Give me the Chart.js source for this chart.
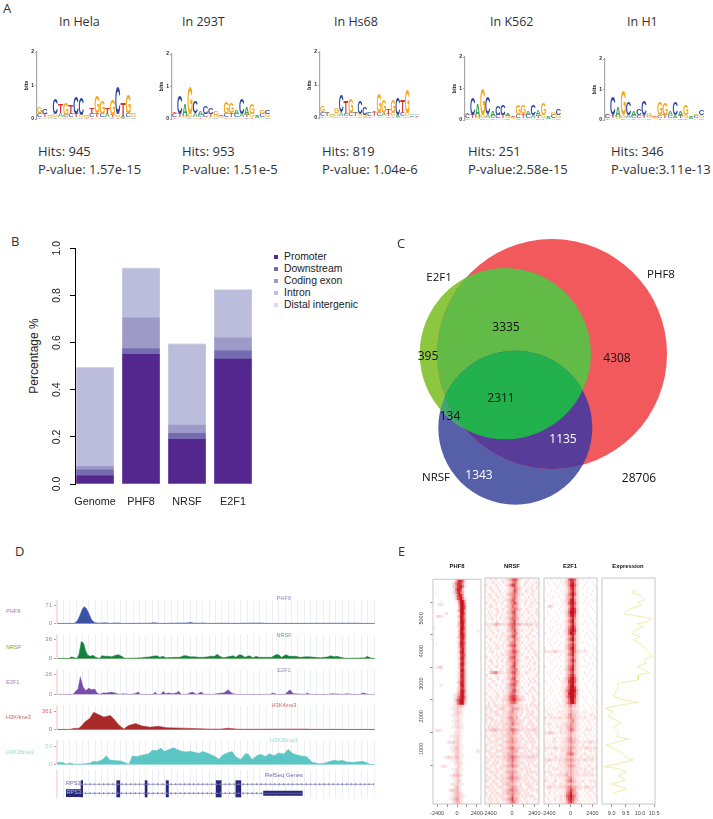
<!DOCTYPE html>
<html>
<head>
<meta charset="utf-8">
<title>PHF8 figure</title>
<script src="https://cdn.jsdelivr.net/npm/chart.js@4"></script>
<style>
html, body { margin: 0; padding: 0; background: #fff; }
#fig { position: relative; width: 713px; height: 819px; overflow: hidden; }
canvas { position: absolute; }
canvas.soft { filter: blur(0.45px); }
canvas.heat { filter: blur(0.4px); }
.t { position: absolute; white-space: nowrap; transform: translate(-50%, -50%); line-height: 1; }
.l { position: absolute; white-space: nowrap; transform: translateY(-50%); line-height: 1; }
.calibri { font-family: "Open Sans", sans-serif; color: #333; }
.helv { font-family: "Liberation Sans", sans-serif; color: #222; }
</style>
</head>
<body>
<div id="fig"></div>
<script>
// Panel A: motif logos, letters and letter heights in bits
const logoNames = ['hela', 'h293t', 'hs68', 'k562', 'h1'];
const logoTitles = ['In Hela', 'In 293T', 'In Hs68', 'In K562', 'In H1'];
const logoHits = ['Hits: 945', 'Hits: 953', 'Hits: 819', 'Hits: 251', 'Hits: 346'];
const logoPvalues = ['P-value: 1.57e-15', 'P-value: 1.51e-5', 'P-value: 1.04e-6', 'P-value:2.58e-15', 'P-value:3.11e-13'];
const helaTop = 'GCGCTGTCCGTGGTGCTGG';
const helaBits = [.2, .14, .03, .47, .27, .34, .27, .5, .5, .03, .17, .5, .4, .2, .47, .82, .37, .57, .03];
const h293tTop = 'TCAGCACCGTGGACAGAGC';
const h293tBits = [.03, .54, .37, .84, .37, .12, .24, .2, .12, .03, .37, .32, .12, .47, .22, .32, .03, .1, .1];
const hs68Top = 'GAAGCTGACCATGGTGCTGAA';
const hs68Bits = [.2, .02, .02, .14, .52, .37, .42, .05, .37, .25, .02, .02, .57, .37, .17, .37, .52, .37, .72, .03, .03];
const k562Top = 'TCAGCACCATGGACAGAGC';
const k562Bits = [.03, .54, .42, .82, .52, .17, .27, .32, .07, .03, .32, .27, .12, .32, .22, .37, .03, .08, .22];
const h1Top = 'TCAGCACCGTGGACAGAGC';
const h1Bits = [.03, .57, .32, .82, .42, .17, .22, .47, .07, .03, .42, .37, .12, .42, .17, .32, .03, .05, .17];
const logoMid = 'CTGGACCTGGCTCATGACGCT';
const logoMidBits = [.12, .1, .06, .1, .12, .08, .1, .1, .08, .06, .1, .12, .1, .1, .08, .1, .06, .1, .1, .05, .05];
const logoLow = 'TAACGTGACTTGAGCTTACAG';
const logoLowBits = [.06, .05, .03, .05, .06, .05, .05, .06, .05, .03, .05, .06, .05, .06, .05, .05, .03, .05, .05, .03, .03];

// Panel B: genomic distribution
const regionCategories = ['Genome', 'PHF8', 'NRSF', 'E2F1'];
const regionNames = ['Promoter', 'Downstream', 'Coding exon', 'Intron', 'Distal intergenic'];
const promoterValues = [0.035, 0.55, 0.19, 0.53];
const downstreamValues = [0.025, 0.025, 0.025, 0.035];
const codingExonValues = [0.015, 0.13, 0.035, 0.055];
const intronValues = [0.417, 0.208, 0.342, 0.202];
const distalValues = [0.003, 0.003, 0.003, 0.003];
const percentTicks = [0, 0.2, 0.4, 0.6, 0.8, 1];

// Panel C: Venn circles in layout units
const vennNames = ['PHF8', 'E2F1', 'NRSF'];
const vennCenterX = [172, 125.3, 135.3];
const vennCenterY = [129, 128.7, 202.7];
const vennRadius = [115, 85.6, 77];

// Panel D: browser tracks, position along the locus and signal
const phf8Pos = [172, 222, 232, 240, 248, 254, 260, 268, 276, 284, 296, 305, 318, 330, 345, 358, 368, 450, 460, 470, 480, 560, 572, 584, 600, 612, 622, 685, 690, 780, 790, 800, 1070, 1090, 1122];
const phf8Val = [0, 0, 8, 30, 58, 67, 60, 38, 14, 4, 1, 2, 3, 0, 2, 2, 0, 1, 3, 2, 0, 2, 4, 1, 1, 2, 0, 1, 0, 2, 1, 0, 1, 0, 0];
const nrsfPos = [172, 208, 216, 224, 232, 238, 245, 252, 258, 264, 272, 280, 288, 300, 306, 316, 328, 336, 348, 356, 368, 376, 425, 436, 452, 458, 472, 480, 490, 498, 525, 540, 552, 560, 570, 582, 598, 612, 625, 632, 645, 652, 662, 672, 684, 700, 708, 718, 726, 735, 748, 760, 768, 778, 795, 815, 828, 836, 845, 858, 868, 888, 900, 918, 928, 962, 985, 992, 1002, 1012, 1022, 1040, 1095, 1102, 1110, 1122];
const nrsfVal = [0, 0, 3, 1, 0, 8, 32, 28, 14, 6, 4, 6, 2, 0, 5, 4, 4, 3, 6, 7, 3, 0, 1, 2, 3, 4, 5, 2, 4, 1, 2, 2, 5, 5, 3, 3, 2, 2, 3, 4, 4, 8, 3, 1, 3, 5, 2, 7, 6, 2, 5, 1, 4, 2, 2, 2, 7, 7, 2, 7, 4, 4, 2, 3, 3, 1, 3, 5, 3, 4, 2, 0, 1, 4, 1, 0];
const e2f1Pos = [172, 220, 228, 235, 242, 250, 258, 268, 276, 285, 292, 300, 310, 322, 335, 345, 352, 362, 368, 392, 405, 416, 422, 460, 466, 472, 484, 490, 497, 505, 518, 530, 537, 544, 562, 570, 578, 590, 605, 612, 640, 660, 672, 685, 695, 708, 810, 820, 830, 855, 870, 880, 915, 922, 930, 985, 995, 1030, 1040, 1060, 1080, 1090, 1105, 1122];
const e2f1Val = [0, 0, 4, 7, 23, 10, 5, 8, 6, 7, 2, 0, 2, 2, 3, 2, 1, 0, 1, 0, 1, 3, 0, 0, 3, 0, 0, 4, 1, 2, 1, 2, 4, 0, 0, 2, 3, 0, 3, 0, 0, 1.5, 2, 6, 2, 0, 0, 2, 0, 0, 6, 1, 0, 2, 0, 0, 1, 0, 1, 0, 0, 2, 0, 0];
const h3k4Pos = [172, 210, 222, 238, 246, 256, 270, 282, 296, 312, 332, 345, 358, 372, 386, 408, 425, 450, 475, 500, 550, 600, 640, 665, 685, 710, 725, 760, 850, 870, 915, 935, 1122];
const h3k4Val = [0, 0, 18, 25, 70, 150, 215, 340, 295, 245, 275, 185, 80, 10, 75, 115, 70, 45, 62, 35, 25, 14, 5, 8, 24, 6, 4, 3, 6, 7, 7, 2, 0];
const h3k36Pos = [172, 187, 200, 212, 224, 247, 272, 280, 292, 307, 320, 330, 347, 362, 377, 387, 398, 412, 422, 434, 447, 457, 472, 484, 494, 507, 522, 534, 547, 560, 572, 584, 597, 609, 619, 634, 647, 657, 669, 682, 697, 707, 722, 737, 745, 757, 772, 782, 797, 809, 822, 837, 852, 865, 877, 892, 907, 920, 937, 957, 972, 987, 1002, 1017, 1027, 1042, 1062, 1087, 1097, 1112, 1122];
const h3k36Val = [5, 6, 1, 4, 1, 1, 4, 9, 8, 13, 25, 13, 11, 10, 5, 0, 24, 23, 26, 28, 31, 41, 40, 47, 37, 43, 48, 42, 38, 36, 38, 35, 32, 37, 34, 28, 22, 15, 27, 33, 37, 23, 14, 31, 30, 14, 26, 29, 23, 31, 25, 33, 30, 44, 32, 27, 24, 22, 6, 2, 3, 8, 12, 10, 12, 7, 6, 9, 6, 0, 0];
const trackTop = [71, 36, 26, 361, 53];
const trackAxisMax = [91.5, 44.6, 32.6, 472, 68.7];
const trackNames = ['PHF8', 'NRSF', 'E2F1', 'H3K4me3', 'H3K36me3'];
const exonStart = [243, 350, 435, 498, 648, 707];
const exonEnd = [250, 361, 443, 507, 665, 724];
const utrStart = [790];
const utrEnd = [908];

// Panel E: heatmaps as one digit of signal per bin, top row first
const heatPhf8 = [
'000000000001368863100000000','000000000012578752000000000','000000000013478862100000000','000000000002588731000000000',
'010000000012478641000000000','000000000001368851000000000','000000000001267962100000000','000010000000126995100000000',
'001221000000015996100000000','000000000000014997100000000','000000000000025995100000000','000000120000013996100000000',
'013221000000024985100000000','000000000000013986100000000','000000000000014996100000000','000000000000024895100100000',
'100000000000013996100000000','000000000000014985100000110','000000000000014996200000000','000000000000024896100000000',
'000000000000013885100000000','010000000000014986100000000','000000000000014885100000000','000000000000013795100000000',
'000000000000014895100000000','000000000000012786100000000','000000000000013895000000000','000000000000012785100000000',
'000000000000013895100000000','012330000000013784100000000','000000000000012895100000000','000000000000013785100000000',
'000000000000012885000000000','000000000000013785100000000','000000000000024885100000000','000120000000013895100000000',
'000000000000023785100000000','000000000000024896100000000','000000000001235895100000000','000000000001246896200000000',
'000000000001367995200000000','000000000001257994100000000','000000000011233321000000000','000000000012232210000000000',
'000000000001233210000000000','000000000012232110000000000','000000000001122110000000000','000000000011232100000000000',
'000000000001222110000000000','000000000011232210000000000','022210000000122110000000000','000000000001222100000000000',
'000000000112232110000000000','000000000001232100000000000','000000012223232100000000000','000000000011232110000000000',
'000000000112342110000000000','000000000012232100000000220','000000000001332110000000000','000000123222342110000000000',
'000000000011232100000000000','000000000001232210000000000','000012210000123100000000000','000000000011232110000000000',
'000000000001232100000000000','000000000123343210000000000','000000000011232100000000000','000000000001233100000000000',
'000000000122232110000000000','000000000001342100000000000','000000001233342100000000000','000000000012343210000000000',
'000000000112343221000000000','000000000123453210000000000','000000000012343210000000000'];
const heatNrsf = [
'102012011123467632101201102','010210102112356521012010120','201012010123577421020102011','012101201012346532101021020',
'100210120112347521012102101','021012011023456431201012010','102101201112356421010201102','010120101123466321102010210',
'201012012012457521021012012','012201010123365421010120101','101012102112456532102101021','020101201023467321010210120',
'102012011113356421201012012','011201020123466431010201101','100102101112457321102010210','212234322224567443223232122',
'021012010113466321010201020','102101201023457421201012101','010210102112356521010120012','201012011123467321102101201',
'012101020123346431010201010','101020101112456321201012102','020102102023567421010120101','102011201112356321102012010',
'011201010123467531010201201','100102012123456421201010120','201010201113567321012102012','012102012023456431101020101',
'101201101123357421010201210','020012102112467321202010102','102101021023456521010120201','013455322123467431012101012',
'201012010113356421201010120','012101201123467321010202101','100210102112456531101020210','021012011023567421010201012',
'102101020123456321201012101','011020102113467431010120210','200102101123566321102101012','012011201224677532210102101',
'101202012234678543220101210','020120102123566421101012102','121022112223443222112021212','212101223212354432212101021',
'102122102223453321201212102','211012212123443312102122011','122201112224553421021201212','201212022123454322210121021',
'112021212233464332101212102','021212102223443221212012121','223343222233565432212222321','110212022124354321021210212',
'202121112233443212102121021','121012222123453321210212102','012212102234454322012121210','211021222123443221121012102',
'102212012234564332212102121','221102222223454421021221012','012121102234453312212012122','202212222334565432222323222',
'121021112234464321102121201','210212202123453322210212012','102121022234464421021201221','221012122123343212212120102',
'012212201234454321102122212','201121022123453322021211021','122012212234564432212022102','210221022223453321121201212',
'102112102234343212012212021','221201222123454322101221102','012121012234564421212012121','201212202234454332021201012',
'112021122123463321212122101','021202012234574421021010212','102111201123465321102101011'];
const heatE2f1 = [
'000100101013687631010010001','010010001123578521000100100','001001010113589631001000010','100000100012478521010010001',
'000101001012468521000100100','010000100113579631010001000','001010010013468421000100010','100100001023589521001000101',
'000010100113689631010010000','013210001012478521000101000','000100010012589731001000100','010001001023699731000100010',
'001000100013589621010010000','100010010012468521000001001','000101000113579421001000100','010000101012468521010010010',
'001010001013579621000100001','000100100023689731010001000','100001010113698621000100100','000010001012468421001010010',
'010100100013579521000001001','001001001012457421010100000','000100010013568521000010100','100010100023579521001000010',
'212123211112468532112100001','000100001013568421000100100','010001010012457421010001010','001010001013468521001000001',
'000100100012457421000010100','100001001013568421010100010','000010010023578421000001001','010100001013467321001010000',
'001000100013578521000100100','000101010124689631010001000','100010001123789631000010010','010001000113689521001000101',
'000100101124699731000100000','001010001135799842010010010','000100010134899741000001000','010001001125799731010100100',
'100010100123699631001000010','001001010124689621000100001','010100011122453321010010100','101010100112342211001001010',
'110101021112343221011100101','012110101122453321101012110','201212122123454322112101021','101011011112345321010110101',
'112101101223354321101011010','011010212123454321010101101','101101012113465321101212010','223321112122343211011010101',
'101010101112342211101101010','010112011123453321010110101','111021101223454322112123212','101101011122343221021011010',
'212123212223454321212322123','110101102223453221101012111','011211011124565321112101011','101012112123343211210121212',
'223212122234454322123212212','110101021223343212010101101','102110112123454321101121012','011021211122343221212101212',
'212101012123343221012121101','101211222234343222122212212','110102011123453211101010101','211012101124564321121012121',
'101121012123343212101101012','123212122234564432212321212','011101101124575421101012101','102011011125685431010110110',
'110101112136796531101011012','011012012125786431010101101','101101011124675321101010110'];
const heatTicks = [-2400, -1200, 0, 1200, 2400];
const rowTicks = [1000, 2000, 3000, 4000, 5000];

// Panel E: expression running mean down the peak ranks
const exprRank = [5220, 5154, 5098, 4976, 4911, 4854, 4789, 4732, 4634, 4528, 4447, 4390, 4309, 4244, 4146, 4081, 4000, 3902, 3797, 3715, 3593, 3528, 3431, 3350, 3285, 3203, 3146, 3024, 2943, 2886, 2780, 2634, 2553, 2480, 2398, 2333, 2252, 2146, 2049, 1984, 1886, 1764, 1642, 1585, 1520, 1439, 1317, 1236, 1114, 1073, 976, 911, 870, 772, 691, 585, 488, 382, 260];
const exprValue = [9.88, 9.71, 10.0, 10.17, 9.94, 10.06, 9.79, 9.59, 9.45, 10.37, 10.29, 9.91, 10.12, 9.83, 9.71, 10.0, 9.77, 10.0, 10.17, 10.29, 10.43, 10.17, 10.21, 9.91, 10.12, 10.33, 9.94, 9.94, 9.19, 9.24, 9.19, 9.07, 9.36, 9.92, 9.19, 8.78, 9.05, 8.86, 9.13, 9.33, 9.07, 9.24, 9.19, 9.59, 9.24, 8.8, 9.19, 9.4, 9.53, 9.77, 9.19, 8.76, 9.19, 9.53, 9.24, 9.48, 8.98, 9.53, 9.07];
const exprTicks = [9, 9.5, 10, 10.5];

const fig = document.getElementById('fig');
Chart.defaults.animation = false;
Chart.defaults.responsive = false;
Chart.defaults.layout.autoPadding = false;
Chart.defaults.plugins.legend.display = false;
Chart.defaults.plugins.tooltip.enabled = false;
Chart.defaults.font.family = '"Liberation Sans", sans-serif';

// Canvas sized so the plot area lands on the given rectangle
function box(left, top, right, bottom, m, cls) {
    const c = document.createElement('canvas');
    c.width = right - left + m.l + m.r;
    c.height = bottom - top + m.t + m.b;
    c.style.left = (left - m.l) + 'px';
    c.style.top = (top - m.t) + 'px';
    if (cls) c.className = cls;
    fig.appendChild(c);
    return c.getContext('2d');
}

function text(str, x, y, size, cls, color, extra) {
    const d = document.createElement('div');
    d.className = cls;
    d.textContent = str;
    d.style.left = x + 'px';
    d.style.top = y + 'px';
    d.style.fontSize = size + 'px';
    if (color) d.style.color = color;
    if (extra) d.style.cssText += extra;
    fig.appendChild(d);
}

// ---------- Panel A ----------
const letterColors = { A: '#3fa34d', C: '#2c479d', G: '#f5a81c', T: '#d4322c' };

const logoLetters = {
    id: 'logoLetters',
    afterDatasetsDraw(chart) {
        const ctx = chart.ctx;
        chart.data.datasets.forEach((ds, i) => {
            chart.getDatasetMeta(i).data.forEach((bar, j) => {
                const ch = ds.letters[j];
                const h = Math.abs(bar.base - bar.y);
                ctx.save();
                ctx.font = 'bold 40px "Liberation Sans"';
                const mt = ctx.measureText(ch);
                const w = mt.actualBoundingBoxLeft + mt.actualBoundingBoxRight;
                const full = mt.actualBoundingBoxAscent + mt.actualBoundingBoxDescent;
                ctx.translate(bar.x - bar.width / 2, bar.y);
                ctx.scale(bar.width / w, h / full);
                ctx.fillStyle = letterColors[ch];
                ctx.globalAlpha = ds.letterAlpha;
                ctx.fillText(ch, mt.actualBoundingBoxLeft, mt.actualBoundingBoxAscent);
                ctx.restore();
            });
        });
    }
};

function drawLogo(rect, top, bits) {
    const m = { l: 14, r: 4, t: 6, b: 2 };
    const labels = top.split('');
    new Chart(box(rect[0], rect[1], rect[2], rect[3], m, 'soft'), {
        type: 'bar',
        data: {
            labels: labels,
            datasets: [
                { data: logoLowBits.slice(0, labels.length), letters: logoLow, letterAlpha: 0.55 },
                { data: logoMidBits.slice(0, labels.length), letters: logoMid, letterAlpha: 0.8 },
                { data: bits, letters: top, letterAlpha: 1 }
            ].map(d => Object.assign(d, { backgroundColor: 'rgba(0,0,0,0)', barPercentage: 0.98, categoryPercentage: 1 }))
        },
        options: {
            layout: { padding: { top: m.t, right: m.r } },
            scales: {
                x: { stacked: true, afterFit: s => { s.height = m.b; }, ticks: { display: false }, grid: { display: false }, border: { display: false } },
                y: {
                    stacked: true, min: 0, max: 2,
                    afterFit: s => { s.width = m.l; },
                    ticks: { stepSize: 1, color: '#222', padding: 1, font: { size: 5, weight: 'bold' } },
                    grid: { drawOnChartArea: false, color: '#a8a8a8', tickLength: 2 },
                    border: { color: '#a8a8a8', width: 1.2 },
                    title: { display: true, text: 'bits', color: '#222', padding: 0, font: { size: 5.5, weight: 'bold' } }
                }
            }
        },
        plugins: [logoLetters]
    });
}

const logoRects = [[37, 52, 136, 121], [172, 54, 270, 121], [320, 52, 419, 120], [465, 57, 561, 122], [605, 59, 704, 122]];
const logoSeqs = [helaTop, h293tTop, hs68Top, k562Top, h1Top];
const logoBits = [helaBits, h293tBits, hs68Bits, k562Bits, h1Bits];
logoNames.forEach((n, i) => drawLogo(logoRects[i], logoSeqs[i], logoBits[i]));

const titleX = [59, 182, 334, 490, 627];
const hitsX = [38, 182, 322, 468, 611];
logoTitles.forEach((t, i) => {
    text(t, titleX[i], 22, 12.5, 'l calibri');
    text(logoHits[i], hitsX[i], 151, 13, 'l calibri');
    text(logoPvalues[i], hitsX[i], 169, 13, 'l calibri');
});
text('A', 3, 8, 13, 'l calibri');

// ---------- Panel B ----------
const regionColors = ['#54278f', '#756bb1', '#9e9ac8', '#bcbddc', '#dadaeb'];
const regionSeries = [promoterValues, downstreamValues, codingExonValues, intronValues, distalValues];

const mB = { l: 30, r: 6, t: 8, b: 26 };
new Chart(box(75, 244, 256, 484, mB), {
    type: 'bar',
    data: {
        datasets: regionSeries.map((vals, i) => ({
            label: regionNames[i],
            data: vals.map((v, j) => ({ x: j + 1, y: v })),
            backgroundColor: regionColors[i],
            barThickness: 37
        }))
    },
    options: {
        layout: { padding: { top: mB.t, right: mB.r } },
        scales: {
            x: {
                type: 'linear', stacked: true, offset: false, min: 0.565, max: 4.5,
                afterFit: s => { s.height = mB.b; },
                afterBuildTicks: s => { s.ticks = regionCategories.map((c, i) => ({ value: i + 1 })); },
                ticks: { color: '#222', padding: 12, maxRotation: 0, font: { size: 10.8 }, callback: v => regionCategories[v - 1] },
                grid: { display: false, offset: false, drawTicks: false, tickLength: 0 },
                border: { display: false }
            },
            y: {
                stacked: true, min: 0, max: 1,
                afterFit: s => { s.width = mB.l; },
                afterBuildTicks: s => { s.ticks = percentTicks.map(v => ({ value: v })); },
                ticks: { color: '#222', padding: 6, minRotation: 90, maxRotation: 90, crossAlign: 'center', font: { size: 10.5 }, callback: v => v.toFixed(1) },
                grid: { drawOnChartArea: false, color: '#000', tickLength: 5 },
                border: { color: '#000', width: 1 }
            }
        }
    }
});
text('B', 11, 241, 13, 'l calibri');
text('Percentage %', 34, 356, 12, 't helv', null, 'transform:translate(-50%,-50%) rotate(-90deg);');
regionNames.forEach((n, i) => {
    const y = 257 + i * 12;
    const sw = document.createElement('div');
    sw.style.cssText = 'position:absolute;left:274px;top:' + (y - 2) + 'px;width:4px;height:4px;background:' + regionColors[i];
    fig.appendChild(sw);
    text(n, 284, y, 10.4, 'l helv');
});

// ---------- Panel C ----------
const vennColors = ['#f2595c', '#8dc63f', '#5560a9'];

// Overlaps are filled by clipping to the circles the chart just drew
const vennOverlaps = {
    id: 'vennOverlaps',
    afterDatasetsDraw(chart) {
        const ctx = chart.ctx;
        const pts = chart.data.datasets.map((d, i) => chart.getDatasetMeta(i).data[0]);
        const path = i => {
            ctx.beginPath();
            ctx.arc(pts[i].x, pts[i].y, pts[i].options.radius, 0, Math.PI * 2);
        };
        const fillOverlap = (list, color) => {
            ctx.save();
            list.slice(0, -1).forEach(i => { path(i); ctx.clip(); });
            path(list[list.length - 1]);
            ctx.fillStyle = color;
            ctx.fill();
            ctx.restore();
        };
        fillOverlap([1, 2], '#3fa86e');
        fillOverlap([0, 1], '#62bb47');
        fillOverlap([0, 2], '#583c99');
        fillOverlap([0, 1, 2], '#22b14c');
    }
};

new Chart(box(380, 225, 700, 525, { l: 0, r: 0, t: 0, b: 0 }), {
    type: 'bubble',
    data: {
        datasets: vennNames.map((n, i) => ({
            label: n,
            data: [{ x: vennCenterX[i], y: vennCenterY[i], r: vennRadius[i] }],
            backgroundColor: vennColors[i],
            borderWidth: 0
        }))
    },
    options: {
        scales: {
            x: { display: false, min: 0, max: 320 },
            y: { display: false, min: 0, max: 300, reverse: true }
        }
    },
    plugins: [vennOverlaps]
});
text('C', 397, 243, 13, 'l calibri');
text('E2F1', 439, 277, 11.5, 't calibri', '#111');
text('PHF8', 661, 274, 11.5, 't calibri', '#111');
text('NRSF', 436, 477, 11.5, 't calibri', '#111');
text('3335', 506, 327, 12, 't calibri', '#111');
text('395', 428, 356, 12, 't calibri', '#111');
text('4308', 617, 358, 12, 't calibri', '#111');
text('2311', 501, 398, 12, 't calibri', '#111');
text('134', 450, 416, 12, 't calibri', '#111');
text('1135', 563, 439, 12, 't calibri', '#fff');
text('1343', 479, 475, 12, 't calibri', '#fff');
text('28706', 639, 478, 12, 't calibri', '#111');

// ---------- Panel D ----------
const trackFill = ['#3a53a4', '#148040', '#7a4ea8', '#a82a2a', '#5cc6c4'];
const trackText = ['#8b8bc9', '#6aa56a', '#9a88c0', '#c46a60', '#96d8d4'];
const trackBase = ['#9a9ad0', '#7ab27a', '#d8d0e8', '#c87868', '#a8e0dc'];
const trackPos = [phf8Pos, nrsfPos, e2f1Pos, h3k4Pos, h3k36Pos];
const trackVal = [phf8Val, nrsfVal, e2f1Val, h3k4Val, h3k36Val];
const trackEdges = [595, 629, 664, 700, 735, 770, 798];
const mD = { l: 30, r: 4, t: 0, b: 0 };

const locusX = {
    type: 'linear', min: 172, max: 1122,
    afterFit: s => { s.height = 0; },
    ticks: { display: false, stepSize: 19 },
    grid: { color: '#ecedf5', drawTicks: false, tickLength: 0 }
};

trackNames.forEach((name, i) => {
    new Chart(box(57, trackEdges[i], 374, trackEdges[i + 1], mD, 'soft'), {
        type: 'scatter',
        data: {
            datasets: [{
                data: trackPos[i].map((p, j) => ({ x: p, y: trackVal[i][j] })),
                showLine: true, fill: 'origin', pointRadius: 0, borderWidth: 0.5,
                borderColor: trackFill[i], backgroundColor: trackFill[i]
            }]
        },
        options: {
            layout: { padding: { right: mD.r } },
            scales: {
                x: Object.assign({}, locusX, { border: { color: trackBase[i], width: 1 } }),
                y: {
                    min: 0, max: trackAxisMax[i],
                    afterFit: s => { s.width = mD.l; },
                    afterBuildTicks: s => { s.ticks = [{ value: 0 }, { value: trackTop[i] }]; },
                    ticks: { color: trackText[i], padding: 2, font: { size: 6 }, callback: v => v },
                    grid: { drawOnChartArea: false, color: '#aaa', tickLength: 3 },
                    border: { color: '#fbdcdc', width: 1.5 }
                }
            }
        }
    });
    text(name, 6, [612, 647.5, 683, 718, 753][i], 5.6, 'l helv', trackText[i]);
    text(name, 284, [599, 635.5, 671, 706, 741][i], 5.6, 't helv', trackText[i]);
});

const geneDark = '#27277a';
const geneLine = '#7a7ab8';
const segment = (a, b, y, width, color, dash) => ({
    data: [{ x: a, y: y }, { x: b, y: y }],
    showLine: true, pointRadius: 0, borderWidth: width, borderColor: color, borderDash: dash || []
});
new Chart(box(57, 770, 374, 798, mD, 'soft'), {
    type: 'scatter',
    data: {
        datasets: [
            segment(243, 1122, 1.52, 0.7, geneLine),
            segment(243, 908, 0.52, 0.7, geneLine),
            segment(243, 1122, 1.52, 2, geneLine, [1, 3.5]),
            segment(243, 790, 0.52, 2, geneLine, [1, 3.5])
        ].concat(
            exonStart.map((s, i) => segment(s, exonEnd[i], 1.02, 17, geneDark)),
            utrStart.map((s, i) => segment(s, utrEnd[i], 0.52, 5, geneDark))
        )
    },
    options: {
        layout: { padding: { right: mD.r } },
        scales: {
            x: Object.assign({}, locusX, { border: { display: false } }),
            y: {
                min: 0, max: 3.11,
                afterFit: s => { s.width = mD.l; },
                ticks: { display: false },
                grid: { display: false },
                border: { color: '#fbdcdc', width: 1.5 }
            }
        }
    }
});
text('D', 15, 551, 13, 'l calibri');
text('RefSeq Genes', 284, 776, 5.8, 't helv', '#6a6ab0');
text('RPS3', 66, 784, 5.6, 'l helv', '#6a6ab0');
text('RPS3', 66, 793, 5.6, 'l helv', '#b8b8e0', 'background:' + geneDark + ';padding:1px 0.5px;');

// ---------- Panel E ----------
const heatShades = ['#ffffff', '#fdeeee', '#fbdcdc', '#f8c6c7', '#f4abad', '#ee8c8e', '#e6696d', '#dc454b', '#d0262e', '#c5121b'];
const heatMin = -2900;
const heatMax = 2900;
const rowMax = 5510;
const axisGrey = '#c8c8c8';

const frame = {
    id: 'frame',
    afterDraw(chart) {
        const a = chart.chartArea;
        chart.ctx.save();
        chart.ctx.strokeStyle = axisGrey;
        chart.ctx.lineWidth = 1;
        chart.ctx.strokeRect(a.left, a.top, a.right - a.left, a.bottom - a.top);
        chart.ctx.restore();
    }
};

function bottomAxis(values, min, max, m, labelFn) {
    return {
        type: 'linear', min: min, max: max,
        afterFit: s => { s.height = m.b; },
        afterBuildTicks: s => { s.ticks = values.map(v => ({ value: v })); },
        ticks: { color: '#444', padding: 3, autoSkip: false, maxRotation: 0, font: { size: 5.5 }, callback: labelFn },
        grid: { drawOnChartArea: false, color: '#999', tickLength: 3 },
        border: { display: false }
    };
}

function drawHeat(rows, left, right, showRows) {
    const m = { l: showRows ? 14 : 8, r: 8, t: 4, b: 16 };
    const cols = rows[0].length;
    const width = (heatMax - heatMin) / cols;
    const datasets = [];
    for (let c = 0; c < cols; c++) {
        datasets.push({
            // cells overlap slightly so no seams show between them
            data: rows.map(() => [heatMin + c * width, Math.min(heatMax, heatMin + (c + 1) * width + 60)]),
            backgroundColor: rows.map(r => heatShades[+r[c] || 0]),
            borderWidth: 0, barPercentage: 1.25, categoryPercentage: 1, grouped: false
        });
    }
    new Chart(box(left, 578, right, 804, m, 'heat'), {
        type: 'bar',
        data: { labels: rows.map((r, i) => i), datasets: datasets },
        options: {
            indexAxis: 'y',
            layout: { padding: { right: m.r, top: m.t } },
            scales: {
                x: bottomAxis(heatTicks, heatMin, heatMax, m, v => (Math.abs(v) === 1200 ? '' : v)),
                y: { display: false },
                rowAxis: {
                    axis: 'y', type: 'linear', position: 'left', display: showRows, min: 0, max: rowMax,
                    afterFit: s => { s.width = m.l; },
                    afterBuildTicks: s => { s.ticks = rowTicks.map(v => ({ value: v })); },
                    ticks: { color: '#444', padding: 2, minRotation: 90, maxRotation: 90, crossAlign: 'center', font: { size: 5.5 }, callback: v => v },
                    grid: { drawOnChartArea: false, color: '#999', tickLength: 3 },
                    border: { display: false }
                }
            }
        },
        plugins: [frame]
    });
}
drawHeat(heatPhf8, 433, 481, true);
drawHeat(heatNrsf, 485, 539, false);
drawHeat(heatE2f1, 544, 597, false);

const mE = { l: 8, r: 8, t: 4, b: 16 };
new Chart(box(602, 578, 655, 804, mE, 'soft'), {
    type: 'scatter',
    data: {
        datasets: [{
            data: exprRank.map((r, i) => ({ x: exprValue[i], y: r })),
            showLine: true, pointRadius: 0, borderWidth: 0.6, borderColor: '#e2e26a'
        }]
    },
    options: {
        layout: { padding: { left: mE.l, right: mE.r, top: mE.t } },
        scales: {
            x: bottomAxis(exprTicks, 8.66, 10.53, mE, v => v.toFixed(1)),
            y: { display: false, min: 0, max: rowMax }
        }
    },
    plugins: [frame]
});
text('E', 398, 551, 13, 'l calibri');
[['PHF8', 457], ['NRSF', 512], ['E2F1', 570], ['Expression', 628]].forEach(h => {
    text(h[0], h[1], 566.5, 5.8, 't helv', '#111', 'font-weight:bold;');
});
</script>
</body>
</html>
